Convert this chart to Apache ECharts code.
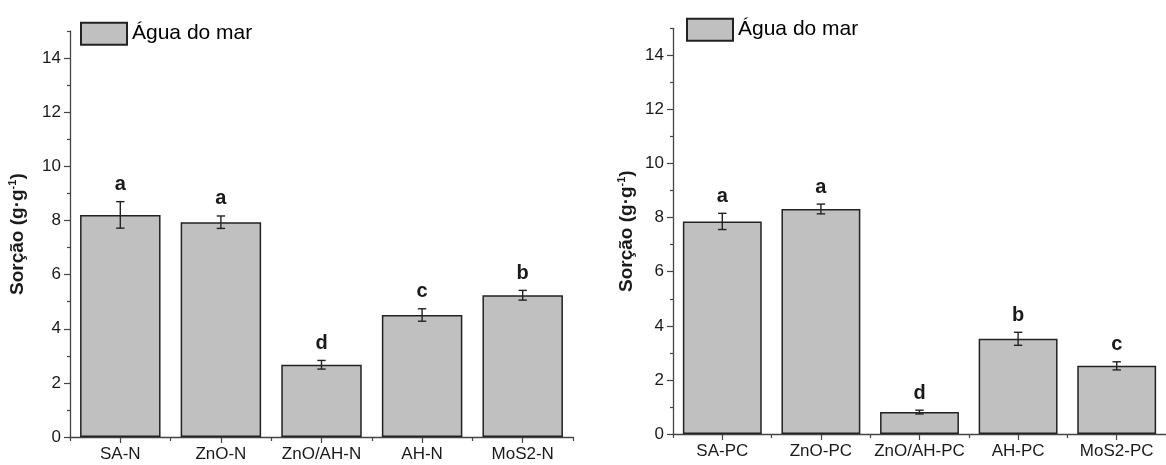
<!DOCTYPE html>
<html>
<head>
<meta charset="utf-8">
<script src="https://cdn.jsdelivr.net/npm/echarts@6/dist/echarts.min.js"></script>
<style>
html,body{margin:0;padding:0;background:#fff;}
#chart{width:1166px;height:465px;}
</style>
</head>
<body>
<div id="chart"></div>
<script>
// ---- data ----
const categoriesN = ['SA-N', 'ZnO-N', 'ZnO/AH-N', 'AH-N', 'MoS2-N'];
const valuesN = [8.21, 7.94, 2.67, 4.51, 5.24];
const errorsN = [0.49, 0.23, 0.16, 0.23, 0.18];
const lettersN = ['a', 'a', 'd', 'c', 'b'];

const categoriesPC = ['SA-PC', 'ZnO-PC', 'ZnO/AH-PC', 'AH-PC', 'MoS2-PC'];
const valuesPC = [7.86, 8.32, 0.81, 3.52, 2.52];
const errorsPC = [0.30, 0.18, 0.07, 0.24, 0.15];
const lettersPC = ['a', 'a', 'd', 'b', 'c'];

const yMajorTicks = [0, 2, 4, 6, 8, 10, 12, 14];
const yMinorTicks = [1, 3, 5, 7, 9, 11, 13, 15];
const seriesName = 'Água do mar';
const yTitle = '{t|Sorção (g·g}{s|-1}{t|)}';

// ---- styles ----
const FONT = '"Liberation Sans", Arial, sans-serif';
const AXIS_COLOR = '#444';
const TEXT_COLOR = '#1a1a1a';

function errorData(vals, errs) {
  return vals.map((v, i) => [i, v - errs[i], v + errs[i]]);
}

function makeErrorRender(letters) {
  return function (params, api) {
    const idx = api.value(0);
    const lo = api.coord([idx, api.value(1)]);
    const hi = api.coord([idx, api.value(2)]);
    const cap = 4.2;
    const st = { stroke: '#222', lineWidth: 1.4 };
    return {
      type: 'group',
      children: [
        { type: 'line', shape: { x1: lo[0], y1: lo[1], x2: hi[0], y2: hi[1] }, style: st },
        { type: 'line', shape: { x1: hi[0] - cap, y1: hi[1], x2: hi[0] + cap, y2: hi[1] }, style: st },
        { type: 'line', shape: { x1: lo[0] - cap, y1: lo[1], x2: lo[0] + cap, y2: lo[1] }, style: st },
        {
          type: 'text',
          style: {
            text: letters[params.dataIndex],
            x: hi[0], y: hi[1] - 7,
            align: 'center', verticalAlign: 'bottom',
            font: 'bold 20px ' + FONT,
            fill: TEXT_COLOR
          }
        }
      ]
    };
  };
}

function mainX(gridIndex, cats) {
  return {
    type: 'category', gridIndex: gridIndex, data: cats, position: 'bottom',
    axisLine: { show: true, lineStyle: { color: AXIS_COLOR, width: 1.3 } },
    axisTick: { show: true, alignWithLabel: true, interval: 0, length: 6, inside: false, lineStyle: { color: AXIS_COLOR, width: 1.2 } },
    axisLabel: { interval: 0, margin: 9, fontFamily: FONT, fontSize: 17, color: TEXT_COLOR },
    splitLine: { show: false }
  };
}
function boundX(gridIndex, cats) {
  return {
    type: 'category', gridIndex: gridIndex, data: cats, position: 'bottom',
    axisLine: { show: false },
    axisTick: { show: true, alignWithLabel: false, interval: 0, length: 4, lineStyle: { color: AXIS_COLOR, width: 1.2 } },
    axisLabel: { show: false },
    splitLine: { show: false }
  };
}
function mainY(gridIndex, nameGap) {
  return {
    type: 'value', gridIndex: gridIndex, min: 0, max: 15, position: 'left',
    name: yTitle, nameLocation: 'middle', nameGap: nameGap, nameRotate: 90,
    nameTextStyle: {
      rich: {
        t: { fontFamily: FONT, fontSize: 19, fontWeight: 'bold', color: TEXT_COLOR, lineHeight: 22 },
        s: { fontFamily: FONT, fontSize: 11, fontWeight: 'bold', color: TEXT_COLOR, verticalAlign: 'top', lineHeight: 22 }
      }
    },
    axisLine: { show: true, lineStyle: { color: AXIS_COLOR, width: 1.3 } },
    axisTick: { show: true, customValues: yMajorTicks, length: 6, lineStyle: { color: AXIS_COLOR, width: 1.2 } },
    axisLabel: { customValues: yMajorTicks, margin: 9, fontFamily: FONT, fontSize: 17, color: TEXT_COLOR },
    splitLine: { show: false }
  };
}
function minorY(gridIndex) {
  return {
    type: 'value', gridIndex: gridIndex, min: 0, max: 15, position: 'left', offset: 0,
    axisLine: { show: false },
    axisTick: { show: true, customValues: yMinorTicks, length: 3, lineStyle: { color: AXIS_COLOR, width: 1.2 } },
    axisLabel: { show: false },
    splitLine: { show: false }
  };
}

const barStyle = { color: '#c0c0c0', borderColor: '#222', borderWidth: 1.5 };

const chart = echarts.init(document.getElementById('chart'), null, { renderer: 'canvas' });
chart.setOption({
  animation: false,
  backgroundColor: '#fff',
  grid: [
    { left: 70, top: 31.2, width: 503, bottom: 28, containLabel: false },
    { left: 673, top: 28.3, width: 502, bottom: 31, containLabel: false }
  ],
  legend: [
    { left: 80, top: 21.7, padding: 0, itemWidth: 46, itemHeight: 22, icon: 'rect', itemGap: 6, data: [seriesName],
      textStyle: { fontFamily: FONT, fontSize: 21, color: '#000' }, selectedMode: false },
    { left: 686, top: 17.7, padding: 0, itemWidth: 46, itemHeight: 22, icon: 'rect', itemGap: 6, data: [seriesName],
      textStyle: { fontFamily: FONT, fontSize: 21, color: '#000' }, selectedMode: false }
  ],
  xAxis: [mainX(0, categoriesN), boundX(0, categoriesN), mainX(1, categoriesPC), boundX(1, categoriesPC)],
  yAxis: [mainY(0, 41), minorY(0), mainY(1, 35), minorY(1)],
  series: [
    { name: seriesName, type: 'bar', xAxisIndex: 0, yAxisIndex: 0, data: valuesN, barWidth: '80%', itemStyle: barStyle },
    { name: 'errN', type: 'custom', xAxisIndex: 0, yAxisIndex: 0, data: errorData(valuesN, errorsN),
      renderItem: makeErrorRender(lettersN), z: 5 },
    { name: seriesName, type: 'bar', xAxisIndex: 2, yAxisIndex: 2, data: valuesPC, barWidth: '80%', itemStyle: barStyle },
    { name: 'errPC', type: 'custom', xAxisIndex: 2, yAxisIndex: 2, data: errorData(valuesPC, errorsPC),
      renderItem: makeErrorRender(lettersPC), z: 5 }
  ]
});
</script>
</body>
</html>
